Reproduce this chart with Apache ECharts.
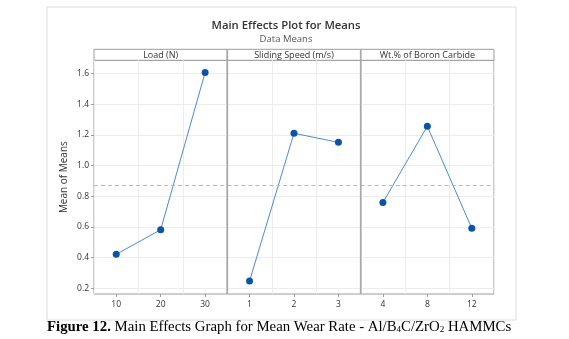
<!DOCTYPE html>
<html lang="en">
<head>
<meta charset="UTF-8">
<title>Main Effects Plot for Means</title>
<script src="https://cdn.jsdelivr.net/npm/echarts@6/dist/echarts.min.js"></script>
<style>
  html, body { margin: 0; padding: 0; background: #fff; }
</style>
</head>
<body>
<div id="main" style="width:569px;height:339px;"></div>
<script type="text/javascript">
// factor levels and mean of means
var panelNames = ['Load (N)', 'Sliding Speed (m/s)', 'Wt.% of Boron Carbide'];
var loadLevels = ['10', '20', '30'];
var loadMeans = [0.422, 0.582, 1.607];
var speedLevels = ['1', '2', '3'];
var speedMeans = [0.248, 1.211, 1.152];
var boronLevels = ['4', '8', '12'];
var boronMeans = [0.759, 1.257, 0.591];
var yTicks = [0.2, 0.4, 0.6, 0.8, 1.0, 1.2, 1.4, 1.6];

var levels = [loadLevels, speedLevels, boronLevels];
var means = [loadMeans, speedMeans, boronMeans];
var grandMean = (loadMeans[0] + loadMeans[1] + loadMeans[2]) / 3;

var font = 'Open Sans';
var panelLeft = 94, panelW = 133.33, panelTop = 60.3, panelBottom = 294;

var myChart = echarts.init(document.getElementById('main'));

var grids = [], xAxes = [], yAxes = [], series = [], graphics = [];

// outer frame
graphics.push({
  type: 'rect', shape: { x: 47, y: 7, width: 469, height: 313 },
  style: { fill: 'none', stroke: '#dcdcdc', lineWidth: 1 }, silent: true
});

for (var i = 0; i < 3; i++) {
  var left = panelLeft + i * panelW;
  grids.push({
    left: left, width: panelW, top: panelTop, height: panelBottom - panelTop,
    show: true, borderColor: '#9c9c9c', borderWidth: 1, backgroundColor: 'transparent'
  });
  xAxes.push({
    type: 'category', gridIndex: i, data: levels[i], boundaryGap: true,
    axisLine: { show: false },
    axisTick: { show: true, alignWithLabel: true, length: 3, lineStyle: { color: '#9c9c9c' } },
    axisLabel: { color: '#333', fontSize: 8.5, fontFamily: font, margin: 6 },
    splitLine: { show: true, interval: 0, lineStyle: { color: '#ececec', width: 1 } }
  });
  yAxes.push({
    type: 'value', gridIndex: i, min: 0.163, max: 1.687,
    name: i === 0 ? 'Mean of Means' : '',
    nameLocation: 'middle', nameGap: 25,
    nameTextStyle: { color: '#333', fontSize: 10, fontFamily: font },
    axisLine: { show: false },
    axisTick: { show: i === 0, length: 3, customValues: yTicks, lineStyle: { color: '#9c9c9c' } },
    axisLabel: {
      show: i === 0, customValues: yTicks, color: '#333', fontSize: 8.5, fontFamily: font, margin: 5,
      formatter: function (v) { return v.toFixed(1); }
    },
    splitLine: { show: true, lineStyle: { color: '#ececec', width: 1 } }
  });
  series.push({
    type: 'line', xAxisIndex: i, yAxisIndex: i, data: means[i],
    symbol: 'circle', symbolSize: 7,
    itemStyle: { color: '#0a55a8' },
    lineStyle: { color: '#4d8bd1', width: 1 },
    silent: true,
    markLine: {
      silent: true, symbol: 'none', label: { show: false },
      lineStyle: { color: '#b8b8b8', type: [4, 3], width: 1 },
      data: [{ yAxis: grandMean }]
    }
  });
  // strip header
  graphics.push({
    type: 'rect', shape: { x: left, y: 49.3, width: panelW, height: 11 },
    style: { fill: '#fff', stroke: '#9c9c9c', lineWidth: 1 }, silent: true
  });
  graphics.push({
    type: 'text', x: left + panelW / 2, y: 55,
    style: { text: panelNames[i], fill: '#333', fontSize: 9, fontFamily: font, align: 'center', verticalAlign: 'middle' },
    silent: true
  });
}

// divider lines between panels look heavier in the reference
for (var j = 1; j < 3; j++) {
  graphics.push({
    type: 'line', shape: { x1: panelLeft + j * panelW, y1: 49.3, x2: panelLeft + j * panelW, y2: panelBottom },
    style: { stroke: '#a8a8a8', lineWidth: 1.6 }, silent: true, z: 10
  });
}

// figure caption
graphics.push({
  type: 'text', x: 47, y: 327,
  style: {
    text: '{b|Figure 12.} Main Effects Graph for Mean Wear Rate - Al/B{s|4}C/ZrO{s|2} HAMMCs',
    fill: '#000', fontSize: 14.8, fontFamily: 'Liberation Serif', verticalAlign: 'middle',
    rich: {
      b: { fontWeight: 'bold', fontSize: 14.8, fontFamily: 'Liberation Serif', fill: '#000' },
      s: { fontSize: 9, fontFamily: 'Liberation Serif', verticalAlign: 'bottom', fill: '#000' }
    }
  },
  silent: true
});

var option = {
  backgroundColor: '#fff',
  animation: false,
  title: {
    text: 'Main Effects Plot for Means',
    subtext: 'Data Means',
    left: 281, top: 15, textAlign: 'center', itemGap: 3,
    textStyle: { color: '#333', fontSize: 11.3, fontWeight: 600, fontFamily: font },
    subtextStyle: { color: '#555', fontSize: 9.5, fontFamily: font }
  },
  grid: grids,
  xAxis: xAxes,
  yAxis: yAxes,
  series: series,
  graphic: graphics
};
myChart.setOption(option);
</script>
</body>
</html>
